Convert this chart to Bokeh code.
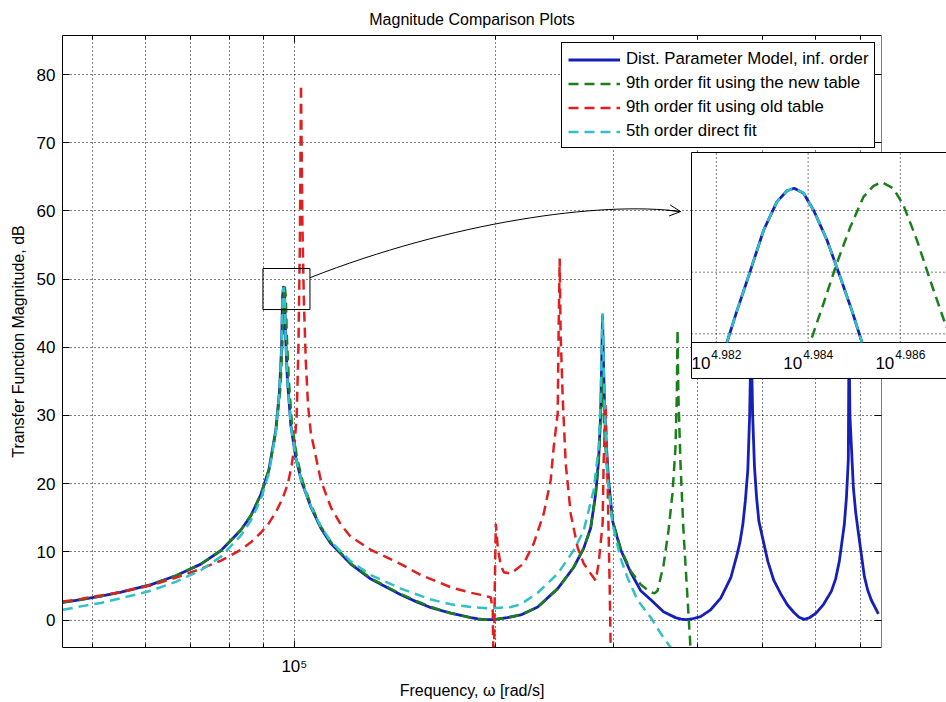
from bokeh.plotting import figure
from bokeh.models import (Range1d, LogScale, LinearScale, LogAxis, LinearAxis, FixedTicker,
                          Grid, Legend, LegendItem, BoxAnnotation, Arrow, OpenHead, Span)
from bokeh.core.properties import value
from bokeh.embed import file_html
from bokeh.resources import INLINE

FONT = "Liberation Sans"

# ---------------- data (frequency in rad/s, magnitude in dB) ----------------
dist_freq = [45100, 48000, 51400, 55100, 61100, 66500, 72500, 77700, 83200, 86100,
             89100, 91600, 93800, 95000, 95700, 96000, 96300, 96700, 97000, 97600,
             98800, 100500, 102500, 105800, 109500, 113400, 121400, 130100, 144200, 152000,
             160000, 171200, 183400, 188000, 192500, 197000, 201300, 208000, 217800, 230900,
             247300, 261200, 270400, 277000, 281800, 284700, 286600, 287600, 288500, 289400,
             290600, 292600, 294600, 298700, 307100, 317800, 329000, 340300, 355800, 370800,
             378000, 384800, 392000, 404200, 418400, 433200, 448500, 458000, 463000, 467400,
             471500, 475500, 478500, 481000, 483500, 486500, 490000, 493900, 509400, 520000,
             532900, 545000, 557300, 567000, 577000, 587000, 601300, 617000, 633600, 643000,
             651300, 662600, 667500, 671800, 673400, 675500, 683500, 689000, 695400, 709900,
             718000, 727300, 745000]
dist_db = [2.6, 3.0, 3.5, 4.1, 5.2, 6.5, 8.2, 10.2, 13.2, 15.3,
           18.4, 22.0, 27.8, 33.5, 40.0, 47.4, 48.8, 47.4, 42.0, 35.5,
           28.5, 23.8, 20.3, 16.6, 13.5, 11.2, 8.2, 6.0, 3.7, 2.7,
           1.8, 1.0, 0.35, 0.15, 0.05, 0.07, 0.15, 0.35, 0.75, 1.9,
           4.6, 7.7, 10.5, 13.5, 18.5, 23.5, 30.0, 37.0, 44.6, 38.0,
           31.0, 25.0, 20.5, 14.5, 10.3, 7.0, 4.3, 3.0, 1.2, 0.35,
           0.12, 0.05, 0.15, 0.5, 1.5, 3.2, 6.2, 9.5, 11.5, 14.0,
           17.5, 22.0, 30.0, 42.0, 30.0, 22.5, 18.0, 14.5, 8.6, 5.8,
           3.8, 2.2, 1.1, 0.4, 0.1, 0.3, 1.0, 2.3, 4.2, 6.0,
           8.6, 14.0, 18.0, 23.5, 42.0, 30.0, 19.5, 15.8, 12.8, 6.4,
           4.4, 2.9, 0.9]

new9_freq = [45100, 48000, 51400, 55100, 61100, 66500, 72500, 77700, 83200, 86100,
             89100, 91600, 93800, 95300, 96000, 96400, 96740, 97100, 97400, 98050,
             99200, 100900, 102900, 105800, 109500, 113400, 121400, 130100, 144200, 152000,
             160000, 171200, 183400, 188000, 192500, 197000, 201300, 208000, 217800, 230900,
             247300, 261200, 270400, 277000, 281800, 284700, 286600, 288200, 289400, 290600,
             292600, 294600, 298700, 307100, 317800, 329000, 340300, 345000, 348600, 355800,
             362000, 367000, 370800, 372500, 373400, 374500, 377200, 381100, 386400, 390400,
             395000]
new9_db = [2.6, 3.0, 3.5, 4.1, 5.2, 6.5, 8.2, 10.2, 13.2, 15.3,
           18.4, 22.0, 27.5, 34.0, 41.0, 47.4, 48.9, 47.4, 42.0, 35.5,
           28.5, 23.8, 20.3, 16.9, 13.7, 11.4, 8.3, 6.1, 3.8, 2.8,
           1.9, 1.0, 0.35, 0.15, 0.05, 0.07, 0.15, 0.35, 0.75, 1.9,
           4.6, 7.7, 10.5, 13.5, 18.5, 23.5, 30.0, 36.0, 31.0, 27.0,
           23.0, 19.5, 14.5, 10.5, 7.2, 5.2, 4.1, 3.9, 4.3, 8.0,
           13.1, 18.6, 25.3, 33.0, 42.6, 33.0, 23.0, 13.1, 3.3, -4.0,
           -12.0]

old9_freq = [45100, 48000, 51400, 55100, 61100, 66500, 72500, 77700, 83200, 86100,
             89100, 91600, 93800, 96000, 97800, 99000, 100000, 100800, 101400, 101900,
             102300, 102800, 103300, 104000, 104800, 105800, 109500, 113400, 117300, 121400,
             130100, 144200, 154500, 171200, 183400, 192000, 196500, 197800, 198500, 199200,
             199900, 201300, 203400, 205500, 210500, 220100, 227700, 235700, 241400, 243900,
             247300, 248100, 249000, 249800, 251600, 254200, 258600, 264900, 270400, 277000,
             281800, 284700, 288600, 289600, 291600, 293600, 295700, 296700, 300000]
old9_db = [2.7, 3.1, 3.6, 4.1, 5.1, 6.2, 7.5, 8.7, 10.3, 11.4,
           12.8, 14.2, 15.8, 17.8, 20.0, 22.5, 25.5, 30.0, 40.0, 55.0,
           78.5, 58.0, 47.0, 38.0, 31.5, 27.5, 20.5, 16.5, 14.0, 12.2,
           10.3, 8.2, 6.6, 4.8, 4.0, 3.6, 3.3, 1.5, -10.0, 5.0,
           14.1, 10.5, 8.0, 7.0, 6.8, 8.3, 11.2, 15.6, 20.5, 25.3,
           30.3, 42.4, 53.0, 42.0, 32.6, 23.0, 15.6, 10.6, 8.3, 6.8,
           5.8, 8.3, 14.1, 23.0, 31.7, 20.0, 5.0, -4.0, -12.0]

direct5_freq = [45100, 48000, 51400, 55100, 61100, 66500, 72500, 77700, 83200, 86100,
                89100, 91600, 93800, 95000, 95700, 96000, 96300, 96700, 97000, 97600,
                98800, 100500, 102500, 105800, 109500, 113400, 121400, 130100, 144200, 160000,
                171200, 183400, 196500, 210500, 217800, 230900, 247300, 261200, 270400, 279800,
                284700, 286600, 287600, 288600, 289600, 290600, 292600, 294600, 298700, 307100,
                314500, 325500, 340300, 355800, 364500, 380000]
direct5_db = [1.5, 2.0, 2.5, 3.2, 4.3, 5.6, 7.3, 9.3, 12.4, 14.6,
              17.7, 21.5, 27.5, 33.5, 40.0, 47.4, 48.8, 47.4, 42.0, 35.5,
              28.5, 23.8, 20.3, 16.7, 13.7, 11.5, 8.6, 6.6, 4.6, 3.0,
              2.3, 1.9, 1.7, 1.9, 2.3, 4.0, 6.8, 10.2, 13.1, 19.0,
              25.3, 32.0, 39.0, 45.0, 38.0, 31.0, 24.0, 19.5, 14.0, 9.0,
              6.2, 2.9, 0.4, -2.6, -4.0, -7.0]

# zoomed inset (first resonance)
inset_dist_freq = [95991, 96040, 96104, 96168, 96232, 96281, 96316, 96361, 96410, 96474, 96538, 96594, 96643]
inset_dist_db = [47.43, 47.69, 48.01, 48.34, 48.57, 48.66, 48.68, 48.64, 48.50, 48.26, 47.96, 47.69, 47.43]
inset_direct5_freq = [95991, 96040, 96104, 96168, 96232, 96281, 96316, 96361, 96410, 96474, 96538, 96594, 96643]
inset_direct5_db = [47.43, 47.69, 48.01, 48.34, 48.57, 48.66, 48.68, 48.64, 48.50, 48.26, 47.96, 47.69, 47.43]
inset_new9_freq = [96401, 96456, 96521, 96585, 96650, 96699, 96739, 96794, 96844, 96908, 96973, 97051]
inset_new9_db = [47.47, 47.74, 48.07, 48.36, 48.61, 48.70, 48.73, 48.68, 48.54, 48.26, 47.93, 47.55]

legend_labels = ["Dist. Parameter Model, inf. order",
                 "9th order fit using the new table",
                 "9th order fit using old table",
                 "5th order direct fit"]

x_limits = (45050, 753000)
y_limits = (-4.03, 85.72)
x_major_ticks = [100000]
x_minor_ticks = [50000, 60000, 70000, 80000, 90000, 200000, 300000, 400000, 500000, 600000, 700000]
x_tick_labels = {100000: "10\u2075"}
y_ticks = [0, 10, 20, 30, 40, 50, 60, 70, 80]
y_ticks_right = [0, 10, 20, 30, 70, 80]   # 40-60 sit under the inset

inset_x_limits = (95820, 97051)
inset_y_limits = (47.43, 48.97)
inset_x_ticks = [95940, 96383, 96828]
inset_x_exponents = ["4.982", "4.984", "4.986"]
inset_y_grid = [47.5, 48.0, 48.5]

# ---------------- styling ----------------
BLUE = "#1620b8"
GREEN = "#1b7f1b"
RED = "#e02020"
CYAN = "#30c0c8"
DASH = "10 6"

p = figure(width=946, height=702, output_backend="svg", toolbar_location=None,
           x_axis_type=None, y_axis_type=None,
           x_range=Range1d(0, 1), y_range=Range1d(*y_limits),
           min_border_left=62, min_border_right=65, min_border_top=35, min_border_bottom=55,
           title="Magnitude Comparison Plots",
           background_fill_color="white", border_fill_color="white")
p.extra_x_ranges = {"freq": Range1d(*x_limits)}
p.extra_x_scales = {"freq": LogScale()}
p.outline_line_color = None

p.title.text_font = FONT
p.title.text_font_size = "16px"
p.title.text_font_style = "normal"
p.title.text_color = "black"
p.title.align = "center"
p.title.vertical_align = "top"
p.title.standoff = 11

x_ticker = FixedTicker(ticks=x_major_ticks, minor_ticks=x_minor_ticks)
y_ticker = FixedTicker(ticks=y_ticks, minor_ticks=[])


def style_axis(ax):
    ax.axis_line_color = "black"
    ax.axis_line_width = 1
    ax.major_tick_line_color = "black"
    ax.minor_tick_line_color = "black"
    ax.major_tick_in = 7
    ax.major_tick_out = 0
    ax.minor_tick_in = 4
    ax.minor_tick_out = 0
    ax.major_label_text_font = FONT
    ax.major_label_text_font_size = "17px"
    ax.major_label_text_color = "black"
    ax.axis_label_text_font = FONT
    ax.axis_label_text_font_size = "16px"
    ax.axis_label_text_font_style = "normal"
    ax.axis_label_text_color = "black"


xb = LogAxis(x_range_name="freq", ticker=x_ticker, axis_label="Frequency, \u03c9 [rad/s]")
style_axis(xb)
xb.major_label_overrides = x_tick_labels
xb.major_label_standoff = 9
xb.axis_label_standoff = 3

xt = LogAxis(x_range_name="freq", ticker=x_ticker)
style_axis(xt)
xt.major_label_overrides = {100000: ""}
xt.major_label_text_font_size = "0px"
xt.major_label_standoff = 0

yl = LinearAxis(ticker=y_ticker, axis_label="Transfer Function Magnitude, dB")
style_axis(yl)
yl.major_label_standoff = 7
yl.axis_label_standoff = 7

yr = LinearAxis(ticker=FixedTicker(ticks=y_ticks_right, minor_ticks=[]))
style_axis(yr)
yr.axis_line_color = None
yr.major_label_overrides = {t: "" for t in y_ticks_right}
yr.major_label_text_font_size = "0px"
yr.major_label_standoff = 0

p.add_layout(xb, "below")
p.add_layout(xt, "above")
p.add_layout(yl, "left")
p.add_layout(yr, "right")

gx = Grid(dimension=0, ticker=x_ticker, x_range_name="freq",
          grid_line_color="black", grid_line_dash="1 3", grid_line_width=1,
          minor_grid_line_color="black", minor_grid_line_dash="1 3", minor_grid_line_width=1)
gy = Grid(dimension=1, ticker=y_ticker,
          grid_line_color="black", grid_line_dash="1 3", grid_line_width=1)
p.add_layout(gx)
p.add_layout(gy)

r_dist = p.line(dist_freq, dist_db, x_range_name="freq", line_color=BLUE, line_width=2.8,
                line_join="round")
r_new = p.line(new9_freq, new9_db, x_range_name="freq", line_color=GREEN, line_width=2.5,
               line_dash=DASH)
r_old = p.line(old9_freq, old9_db, x_range_name="freq", line_color=RED, line_width=2.5,
               line_dash=DASH)
r_dir = p.line(direct5_freq, direct5_db, x_range_name="freq", line_color=CYAN, line_width=2.5,
               line_dash=DASH)

# right edge of the axes box (the inset panel, drawn later, covers part of it)
p.add_layout(Span(location=1.0, dimension="height", line_color="black", line_width=1))

legend = Legend(items=[LegendItem(label=lbl, renderers=[r])
                       for lbl, r in zip(legend_labels, [r_dist, r_new, r_old, r_dir])],
                location=(499, 499))
legend.label_text_font = FONT
legend.label_text_font_size = "16.8px"
legend.label_text_color = "black"
legend.glyph_width = 52
legend.glyph_height = 19
legend.label_height = 19
legend.spacing = 4
legend.padding = 6
legend.label_standoff = 6
legend.margin = 0
legend.border_line_color = "black"
legend.border_line_alpha = 1
legend.border_line_width = 1
legend.background_fill_color = "white"
legend.background_fill_alpha = 1
p.add_layout(legend)

# zoom rectangle around the first resonance and the connecting arrow
p.add_layout(BoxAnnotation(left=89750, right=105500, bottom=45.53, top=51.55, x_range_name="freq",
                           fill_color=None, line_color="black", line_alpha=1, line_width=1))
p.bezier(x0=[105500], y0=[50.2], x1=[377400], y1=[59.9],
         cx0=[171200], cy0=[58.3], cx1=[286700], cy1=[61.5],
         x_range_name="freq", line_color="black", line_width=1)
p.add_layout(Arrow(end=OpenHead(size=11, line_color="black", line_width=1),
                   x_start=360000, y_start=60.1, x_end=377400, y_end=59.9,
                   x_range_name="freq", line_color="black", line_width=1))

# inset panel: white card on the top layer, then its own grid, axis line, curves and labels
p.quad(left=[0.768], right=[1.2], bottom=[35.42], top=[68.56],
       fill_color="white", fill_alpha=1, line_color="black", line_width=1, level="overlay")
sub = p.subplot(x_source=Range1d(*inset_x_limits), y_source=Range1d(*inset_y_limits),
                x_scale=LogScale(), y_scale=LinearScale(),
                x_target=Range1d(0.768, 1.0794), y_target=Range1d(40.70, 68.56))
n = len(inset_x_ticks)
sub.segment(x0=inset_x_ticks, y0=[inset_y_limits[0]] * n, x1=inset_x_ticks, y1=[inset_y_limits[1]] * n,
            line_color="black", line_dash="1 3", line_width=1, level="overlay")
m = len(inset_y_grid)
sub.segment(x0=[inset_x_limits[0]] * m, y0=inset_y_grid, x1=[inset_x_limits[1]] * m, y1=inset_y_grid,
            line_color="black", line_dash="1 3", line_width=1, level="overlay")
sub.segment(x0=[inset_x_limits[0]], y0=[inset_y_limits[0]], x1=[inset_x_limits[1]], y1=[inset_y_limits[0]],
            line_color="black", line_width=1, level="overlay")
sub.line(inset_dist_freq, inset_dist_db, line_color=BLUE, line_width=2.8, level="overlay")
sub.line(inset_direct5_freq, inset_direct5_db, line_color=CYAN, line_width=2.5, line_dash=DASH, level="overlay")
sub.line(inset_new9_freq, inset_new9_db, line_color=GREEN, line_width=2.5, line_dash=DASH, level="overlay")
sub.text(x=inset_x_ticks, y=[47.26] * n, text=["10"] * n, text_align="right", text_baseline="middle",
         x_offset=-6, text_font=value(FONT), text_font_size="17px", text_color="black", level="overlay")
sub.text(x=inset_x_ticks, y=[47.26] * n, text=inset_x_exponents, text_align="left", text_baseline="middle",
         x_offset=-5, y_offset=-8.5, text_font=value(FONT), text_font_size="12px", text_color="black",
         level="overlay")

open("out.html", "w").write(file_html(p, INLINE))
